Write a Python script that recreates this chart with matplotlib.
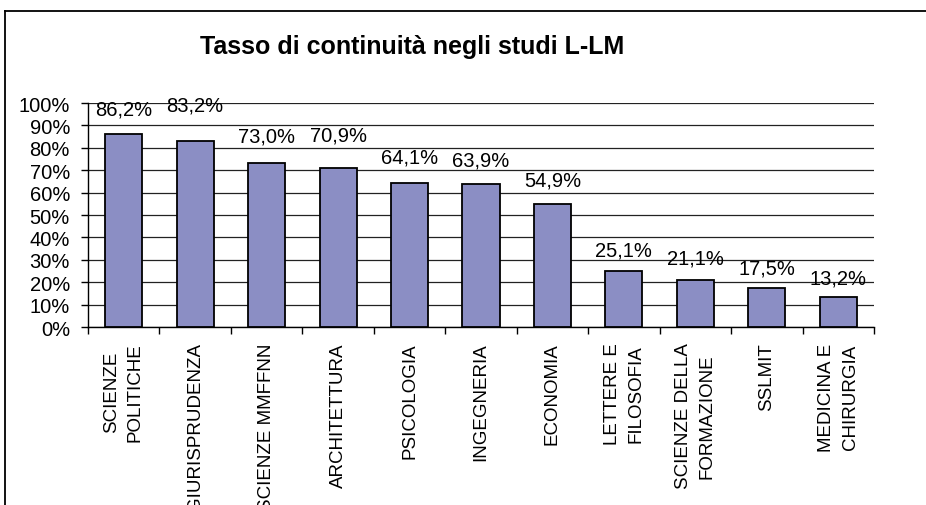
import matplotlib
matplotlib.use("Agg")
import matplotlib.pyplot as plt
from matplotlib.lines import Line2D
from matplotlib.ticker import FixedLocator, PercentFormatter

categories = ["SCIENZE\nPOLITICHE", "GIURISPRUDENZA", "SCIENZE MMFFNN", "ARCHITETTURA",
              "PSICOLOGIA", "INGEGNERIA", "ECONOMIA", "LETTERE E\nFILOSOFIA",
              "SCIENZE DELLA\nFORMAZIONE", "SSLMIT", "MEDICINA E\nCHIRURGIA"]
values = [86.2, 83.2, 73.0, 70.9, 64.1, 63.9, 54.9, 25.1, 21.1, 17.5, 13.2]
value_labels = ["86,2%", "83,2%", "73,0%", "70,9%", "64,1%", "63,9%", "54,9%",
                "25,1%", "21,1%", "17,5%", "13,2%"]
title = "Tasso di continuità negli studi L-LM"

# label offsets above bar top (points) - layout only
label_offsets = [18, 26, 20, 24, 19, 17, 17, 15, 16, 14, 14]

plt.rcParams['font.family'] = ['Liberation Sans', 'DejaVu Sans']

fig = plt.figure(figsize=(9.26, 5.06), dpi=100)
fig.patch.set_facecolor('white')
ax = fig.add_axes([88/926, 1-328/506, 786/926, 224/506])

x = list(range(len(categories)))
ax.bar(x, values, width=0.52, color='#8B8EC4', edgecolor='black', linewidth=1.3, zorder=3)

ax.set_xlim(-0.5, len(categories) - 0.5)
ax.set_ylim(0, 100)
ax.yaxis.set_major_locator(FixedLocator(range(0, 101, 10)))
ax.yaxis.set_major_formatter(PercentFormatter(decimals=0))
ax.grid(axis='y', color='#222222', linewidth=0.9, zorder=0)
ax.set_axisbelow(True)

ax.set_xticks(x)
ax.set_xticklabels(categories, rotation=90, va='top', ha='center', multialignment='center',
                   fontsize=13.5, linespacing=1.5)
ax.xaxis.set_minor_locator(FixedLocator([i - 0.5 for i in range(len(categories) + 1)]))
ax.tick_params(axis='x', which='major', length=0, pad=11)
ax.tick_params(axis='x', which='minor', length=5, width=1, direction='out')
ax.tick_params(axis='y', which='major', length=5, width=1, direction='out', pad=8, labelsize=14.5)

for s in ['top', 'right']:
    ax.spines[s].set_visible(False)
ax.spines['left'].set_linewidth(1)
ax.spines['bottom'].set_linewidth(1)

for xi, v, lab, off in zip(x, values, value_labels, label_offsets):
    ax.annotate(lab, (xi, v), xytext=(0, off), textcoords='offset points',
                ha='center', va='center', fontsize=14.5, zorder=4)

fig.text(412/926, 1-47/506, title, ha='center', va='center', fontsize=18, fontweight='bold')

# outer frame: left and top edges only visible in the crop
fig.add_artist(Line2D([5/926, 5/926], [0, 1-12/506], transform=fig.transFigure,
                      color='black', linewidth=1.3))
fig.add_artist(Line2D([5/926, 1], [1-12/506, 1-12/506], transform=fig.transFigure,
                      color='black', linewidth=1.3))

fig.savefig('out.png', dpi=100)
